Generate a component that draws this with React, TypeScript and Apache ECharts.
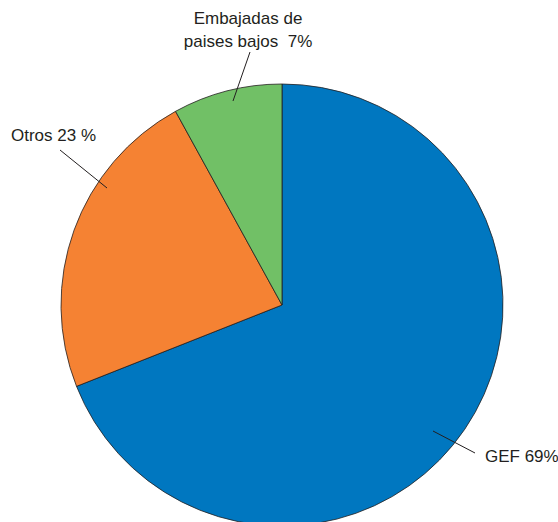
import React, { useEffect, useRef } from "react";
import * as echarts from "echarts";

const categories = ["GEF", "Otros", "Embajadas de paises bajos"];
const values = [69, 23, 8];
const labelTexts = ["GEF 69%", "Otros 23 %", "Embajadas de\npaises bajos  7%"];
const colors = ["#0077c0", "#f58233", "#71c066"];

// label layout (positions only)
const labelPos = [
  { x: 485, y: 456, align: "left", line: [[433, 431], [475, 453]] },
  { x: 11, y: 135, align: "left", line: [[107, 188], [60, 150]] },
  { x: 248, y: 30, align: "center", line: [[233, 101], [250, 52]] },
];

export default function App() {
  const ref = useRef<HTMLDivElement>(null);
  useEffect(() => {
    const chart = echarts.init(ref.current!, null, { renderer: "svg" });
    chart.setOption({
      animation: false,
      backgroundColor: "#ffffff",
      graphic: labelPos.map((lp) => ({
        type: "line",
        z: 100,
        silent: true,
        shape: {
          x1: lp.line[0][0],
          y1: lp.line[0][1],
          x2: lp.line[1][0],
          y2: lp.line[1][1],
        },
        style: { stroke: "#231f20", lineWidth: 1 },
      })),
      series: [
        {
          type: "pie",
          center: [282, 305],
          radius: 221,
          startAngle: 90,
          clockwise: true,
          avoidLabelOverlap: false,
          data: categories.map((c, i) => ({
            name: c,
            value: values[i],
            itemStyle: { color: colors[i] },
          })),
          itemStyle: { borderColor: "#231f20", borderWidth: 0.8 },
          label: {
            show: true,
            position: "outside",
            formatter: (p: any) => labelTexts[p.dataIndex],
            fontFamily: "Liberation Sans, Arial, sans-serif",
            fontSize: 17,
            lineHeight: 23,
            color: "#231f20",
          },
          labelLine: { show: false },
          labelLayout: (params: any) => {
            const lp = labelPos[params.dataIndex];
            return {
              x: lp.x,
              y: lp.y,
              align: lp.align,
              verticalAlign: "middle",
            };
          },
          emphasis: { disabled: true },
        },
      ],
    });
    return () => chart.dispose();
  }, []);
  return (
    <div
      ref={ref}
      style={{ position: "fixed", left: 0, top: 0, width: 558, height: 522 }}
    />
  );
}
